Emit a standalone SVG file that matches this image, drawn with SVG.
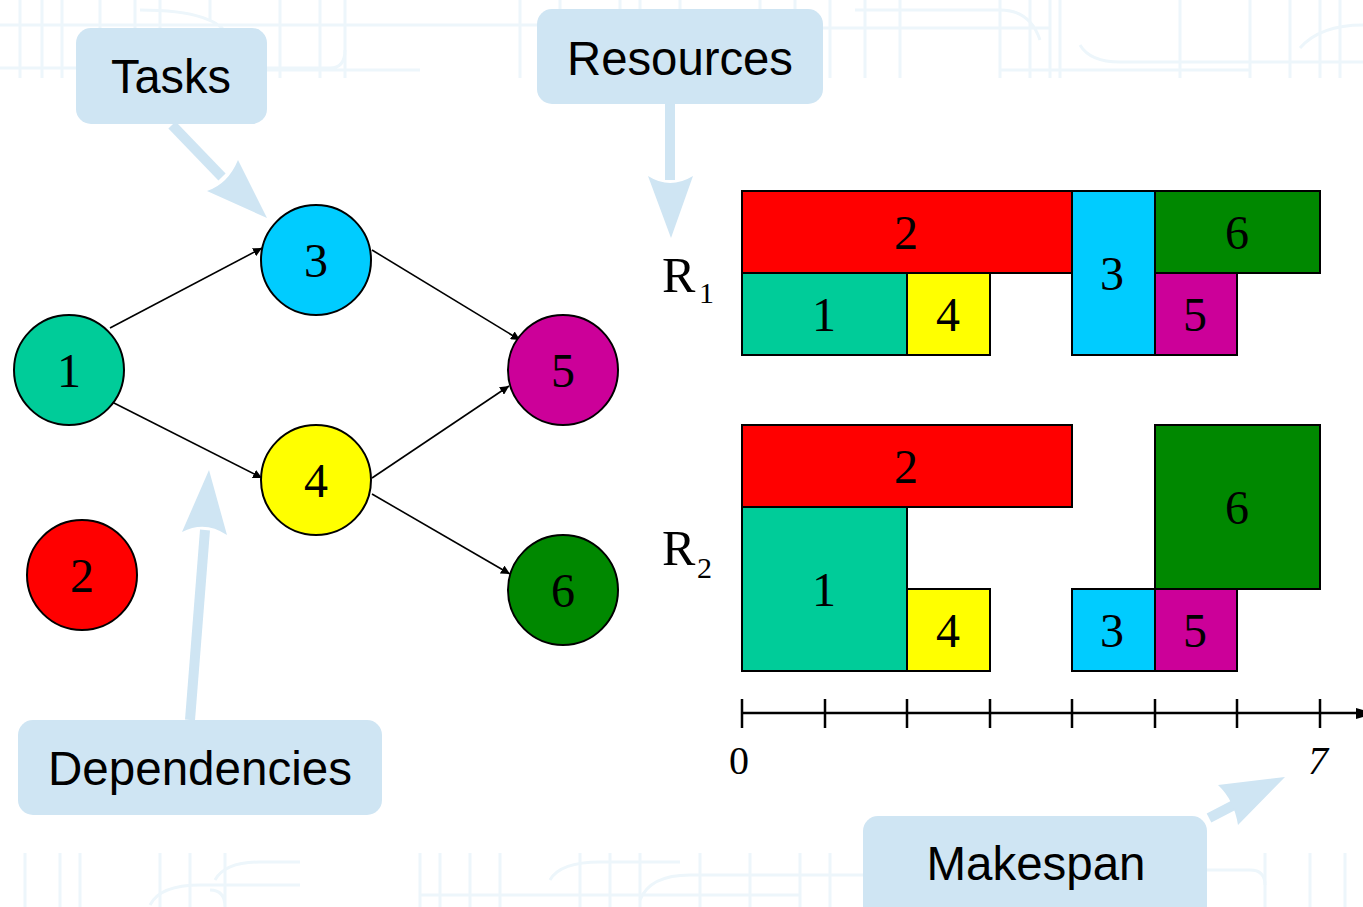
<svg xmlns="http://www.w3.org/2000/svg" width="1363" height="907" viewBox="0 0 1363 907">
<defs>
<style>
.bg{fill:none;stroke:#EDF6FB;stroke-width:3}
.call{fill:#CFE5F3}
.callt{font-family:"Liberation Sans",Arial,sans-serif;font-size:48px;fill:#000;text-anchor:middle}
.cline{stroke:#CFE5F3;stroke-width:10;fill:none}
.node{stroke:#000;stroke-width:2}
.num{font-family:"Liberation Serif","Times New Roman",serif;font-size:48px;fill:#000;text-anchor:middle}
.rl{font-family:"Liberation Serif","Times New Roman",serif;font-size:50px;fill:#000}
.sub{font-family:"Liberation Serif","Times New Roman",serif;font-size:30px;fill:#000}
.edge{stroke:#000;stroke-width:1.6;fill:none;marker-end:url(#ah)}
.bar{stroke:#000;stroke-width:2}
.axis{stroke:#000;stroke-width:2.5;fill:none}
</style>
<marker id="ah" viewBox="0 0 10 10" refX="10" refY="5" markerWidth="9" markerHeight="9" markerUnits="userSpaceOnUse" orient="auto"><path d="M0,0 L10,5 L0,10 Z" fill="#000"/></marker>
</defs>
<rect width="1363" height="907" fill="#fff"/>
<g id="background">
<path class="bg" d="M20,0V78 M42,0V78 M62,0V78 M100,0V78 M135,0V78 M160,0V78 M210,0V20 M280,0V78 M320,0V78 M345,0V78 M520,0V78 M560,0V78 M620,0V78 M640,0V78 M680,0V78 M760,0V78 M795,0V78 M830,0V78 M865,0V78 M900,0V78 M1000,0V78 M1030,0V78 M1050,0V78 M1060,0V78 M1180,0V78 M1250,0V78 M1290,0V78 M1320,0V78 M1340,0V78"/>
<path class="bg" d="M0,25H700 M0,68H330 Q345,68 345,50 M140,10Q220,10 230,40 M600,40Q610,28 640,28H1050 M855,10H1000Q1030,10 1040,40 M1080,45Q1090,62 1120,62H1363 M1300,48Q1320,25 1363,25 M200,70H420 M1000,70H1250"/>
<path class="bg" d="M25,853V907 M60,853V907 M80,853V907 M160,853V907 M190,853V907 M225,853V907 Q225,890 210,890 M420,853V907 M440,853V907 M470,853V907 M500,853V907 M580,853V907 M610,853V907 M640,853V907 M700,853V907 M750,853V907 M800,853V907 M830,853V907 M870,853V907 M1265,853V907 M1310,853V907 M1345,853V907"/>
<path class="bg" d="M215,880Q225,862 260,862H300 M150,905Q160,885 200,885H300 M420,895H800 M550,880Q560,862 600,862H680 M640,900Q650,875 690,875H870 M1200,870H1250Q1265,870 1265,885"/>
</g>
<g id="callout-tasks">
<rect class="call" x="76" y="28" width="191" height="96" rx="15"/>
<text class="callt" x="171" y="93" textLength="120" lengthAdjust="spacingAndGlyphs">Tasks</text>
<path class="cline" d="M172,125 L222,177"/>
<path class="call" d="M267,218 L207,191 Q228,184 238,160 Z"/>
</g>
<g id="callout-resources">
<rect class="call" x="537" y="9" width="286" height="95" rx="15"/>
<text class="callt" x="680" y="75" textLength="226" lengthAdjust="spacingAndGlyphs">Resources</text>
<path class="cline" d="M670,104 L670,180"/>
<path class="call" d="M671,238 L648,176 Q670,190 693,176 Z"/>
</g>
<g id="callout-dependencies">
<rect class="call" x="18" y="720" width="364" height="95" rx="15"/>
<text class="callt" x="200" y="785" textLength="304" lengthAdjust="spacingAndGlyphs">Dependencies</text>
<path class="cline" d="M190,720 L205,530"/>
<path class="call" d="M209,470 L182,532 Q205,520 227,535 Z"/>
</g>
<g id="callout-makespan">
<rect class="call" x="863" y="816" width="344" height="110" rx="15"/>
<text class="callt" x="1036" y="880" textLength="219" lengthAdjust="spacingAndGlyphs">Makespan</text>
<path class="cline" d="M1209,818 L1234,805"/>
<path class="call" d="M1285,777 L1218,785 Q1234,800 1238,825 Z"/>
</g>
<g id="connectors">
<line class="edge" x1="110" y1="328" x2="262" y2="248"/>
<line class="edge" x1="112" y1="402" x2="262" y2="478"/>
<line class="edge" x1="372" y1="250" x2="520" y2="340"/>
<line class="edge" x1="372" y1="478" x2="509" y2="386"/>
<line class="edge" x1="372" y1="494" x2="510" y2="574"/>
</g>
<g id="node-1"><circle class="node" cx="69" cy="370" r="55" fill="#00CC99"/><text class="num" x="69" y="387">1</text></g>
<g id="node-2"><circle class="node" cx="82" cy="575" r="55" fill="#FF0000"/><text class="num" x="82" y="592">2</text></g>
<g id="node-3"><circle class="node" cx="316" cy="260" r="55" fill="#00CCFF"/><text class="num" x="316" y="277">3</text></g>
<g id="node-4"><circle class="node" cx="316" cy="480" r="55" fill="#FFFF00"/><text class="num" x="316" y="497">4</text></g>
<g id="node-5"><circle class="node" cx="563" cy="370" r="55" fill="#CC0099"/><text class="num" x="563" y="387">5</text></g>
<g id="node-6"><circle class="node" cx="563" cy="590" r="55" fill="#008800"/><text class="num" x="563" y="607">6</text></g>
<g id="gantt-r1">
<text class="rl" x="662" y="292">R</text>
<text class="sub" x="699" y="303">1</text>
<rect class="bar" x="742" y="191" width="330" height="82" fill="#FF0000"/><text class="num" x="906" y="249">2</text>
<rect class="bar" x="1072" y="191" width="83" height="164" fill="#00CCFF"/><text class="num" x="1112" y="290">3</text>
<rect class="bar" x="1155" y="191" width="165" height="82" fill="#008800"/><text class="num" x="1237" y="249">6</text>
<rect class="bar" x="742" y="273" width="165" height="82" fill="#00CC99"/><text class="num" x="824" y="331">1</text>
<rect class="bar" x="907" y="273" width="83" height="82" fill="#FFFF00"/><text class="num" x="948" y="331">4</text>
<rect class="bar" x="1155" y="273" width="82" height="82" fill="#CC0099"/><text class="num" x="1195" y="331">5</text>
</g>
<g id="gantt-r2">
<text class="rl" x="662" y="565">R</text>
<text class="sub" x="697" y="578">2</text>
<rect class="bar" x="742" y="425" width="330" height="82" fill="#FF0000"/><text class="num" x="906" y="483">2</text>
<rect class="bar" x="742" y="507" width="165" height="164" fill="#00CC99"/><text class="num" x="824" y="606">1</text>
<rect class="bar" x="907" y="589" width="83" height="82" fill="#FFFF00"/><text class="num" x="948" y="647">4</text>
<rect class="bar" x="1155" y="425" width="165" height="164" fill="#008800"/><text class="num" x="1237" y="524">6</text>
<rect class="bar" x="1072" y="589" width="83" height="82" fill="#00CCFF"/><text class="num" x="1112" y="647">3</text>
<rect class="bar" x="1155" y="589" width="82" height="82" fill="#CC0099"/><text class="num" x="1195" y="647">5</text>
</g>
<g id="time-axis">
<path class="axis" d="M742,713H1358 M742,699V728 M825,699V728 M907,699V728 M990,699V728 M1072,699V728 M1155,699V728 M1237,699V728 M1320,699V728"/>
<path d="M1356,708 L1363,710 L1363,717 L1356,719 Z" fill="#000"/>
<text class="num" x="739" y="774" style="font-size:40px">0</text>
<text class="num" x="1318" y="774" style="font-size:40px;font-style:italic">7</text>
</g>
</svg>
